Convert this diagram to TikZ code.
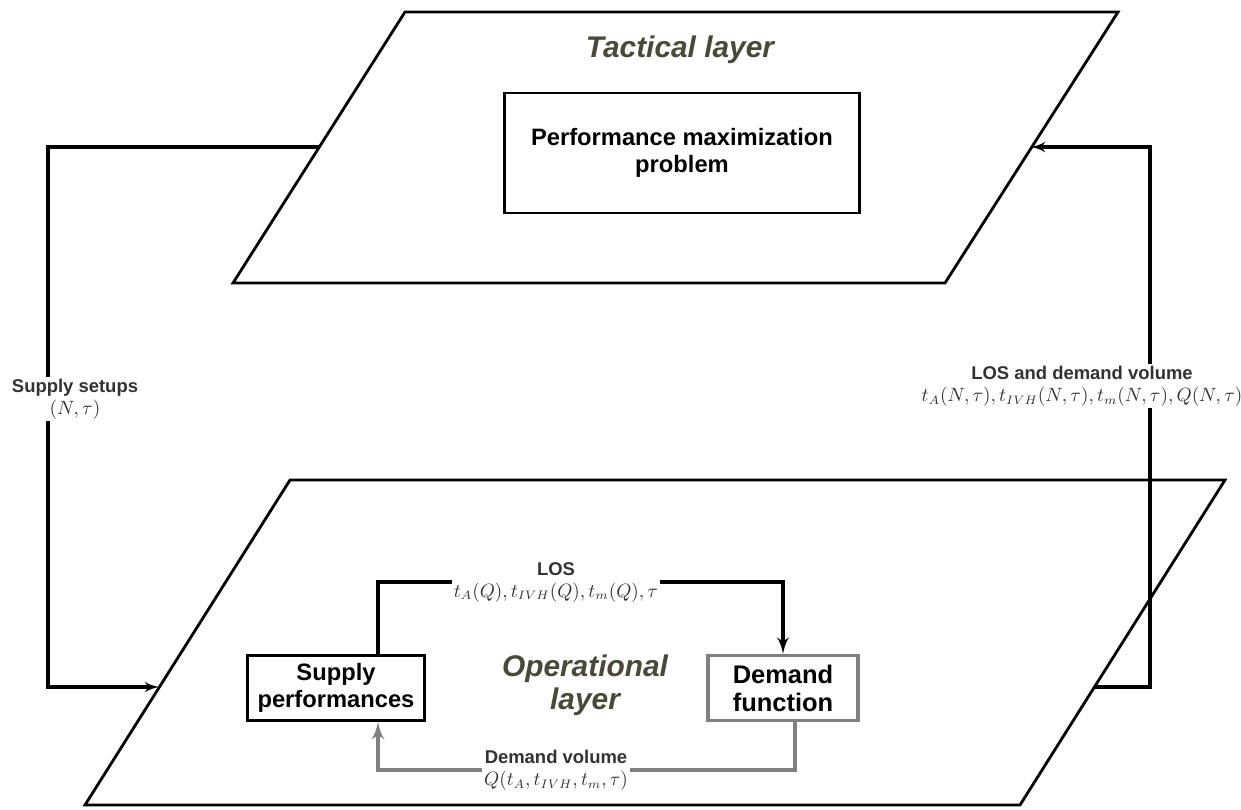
\documentclass[tikz,border=0pt]{standalone}
\usepackage{amsmath}
\usepackage{fontspec}
\setmainfont{Liberation Sans}
\usepackage{tikz}
\usetikzlibrary{arrows}

\definecolor{layertext}{RGB}{74,72,56}
\definecolor{labeltext}{RGB}{50,50,50}
\definecolor{backflow}{RGB}{128,128,128}

\begin{document}
\begin{tikzpicture}
		[x=0.02cm,y=-0.02cm,
		layer/.style={draw=black,line width=1.6pt,line join=miter},
		layername/.style={font=\bfseries\itshape\fontsize{17}{19}\selectfont,text=layertext,align=center},
		box/.style={draw=black,line width=1.6pt,align=center,inner sep=0pt,font=\bfseries\fontsize{13.5}{15}\selectfont},
		flowlabel/.style={fill=white,align=center,inner sep=1pt,text=labeltext,font=\bfseries\fontsize{10.5}{12.5}\selectfont},
		crosslink/.style={draw=black,line width=1.8pt,->,> = latex'},
		loslink/.style={draw=black,line width=2.2pt},
		backlink/.style={draw=backflow,line width=2.4pt}]
		\useasboundingbox (0,0) rectangle (1241,809);
		
		% tactical layer
		\draw[layer] (233,283) -- (945,283) -- (1118,12) -- (405,12) -- cycle;
		\coordinate (tac-w) at (319,147);
		\coordinate (tac-e) at (1031,147);
		\node[layername] (tactical) at (680,50) {Tactical layer};
		\node[box,minimum width=7.1cm,minimum height=2.4cm] (perf) at (682,153) {Performance maximization\\problem};
		
		% operational layer
		\draw[layer] (85,805) -- (1020,805) -- (1225,480) -- (290,480) -- cycle;
		\coordinate (ope-w) at (159,687);
		\coordinate (ope-e) at (1094,687);
		\node[layername] (operational) at (585,685) {Operational\\layer};
		\node[box,minimum width=3.54cm,minimum height=1.3cm] (supply) at (336,688) {Supply\\performances};
		\node[box,draw=backflow,line width=2pt,minimum width=3cm,minimum height=1.3cm,font=\bfseries\fontsize{14.5}{16}\selectfont] (demand) at (783,688) {Demand\\function};
		
		% links between the layers
		\draw[crosslink] (tac-w) -- ++(-271,0) |- (ope-w);
		\draw[crosslink] (ope-e) -- ++(56,0) |- (tac-e);
		\node[flowlabel] (setups) at (75,399) {Supply setups\\$(N,\tau)$};
		\node[flowlabel] (losvol) at (1082,386) {LOS and demand volume\\$t_A(N,\tau),t_{IVH}(N,\tau),t_m(N,\tau),Q(N,\tau)$};
		
		% links inside the operational layer
		\node[flowlabel] (los) at (556,582) {LOS\\$t_A(Q),t_{IVH}(Q),t_m(Q),\tau$};
		\draw[loslink] ([xshift=0.84cm]supply.north) |- (los.west);
		\draw[loslink,->,> = latex'] (los.east) -| (demand.north);
		\node[flowlabel] (dvol) at (556,770) {Demand volume\\$Q(t_A,t_{IVH},t_m,\tau)$};
		\draw[backlink] ([xshift=0.24cm]demand.south) |- (dvol.east);
		\draw[backlink,->,> = latex'] (dvol.west) -| ([xshift=0.84cm]supply.south);
		\end{tikzpicture}
\end{document}
